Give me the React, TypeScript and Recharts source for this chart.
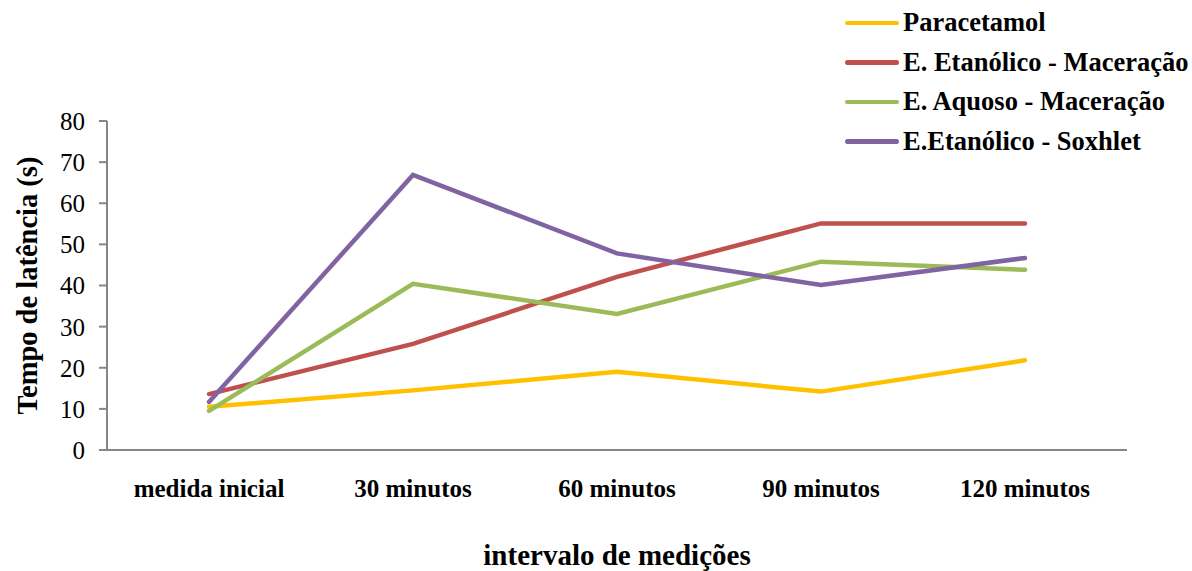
import { LineChart, Line, XAxis, YAxis } from 'recharts'

const categories = ['medida inicial', '30 minutos', '60 minutos', '90 minutos', '120 minutos']
const paracetamol = [10.5, 14.5, 19, 14.2, 21.8]
const etanolicoMaceracao = [13.6, 25.8, 42.1, 55.1, 55.1]
const aquosoMaceracao = [9.5, 40.4, 33.1, 45.8, 43.8]
const etanolicoSoxhlet = [11.7, 66.9, 47.8, 40.1, 46.7]
const yTicks = [0, 10, 20, 30, 40, 50, 60, 70, 80]

const series = [
  { key: 'p', name: 'Paracetamol', color: '#FFC000' },
  { key: 'em', name: 'E. Etanólico - Maceração', color: '#C0504D' },
  { key: 'am', name: 'E. Aquoso - Maceração', color: '#9BBB59' },
  { key: 'es', name: 'E.Etanólico - Soxhlet', color: '#8064A2' },
]

const data = categories.map((c, i) => ({
  cat: c,
  p: paracetamol[i],
  em: etanolicoMaceracao[i],
  am: aquosoMaceracao[i],
  es: etanolicoSoxhlet[i],
}))

const font = 'Liberation Serif, Times New Roman, DejaVu Serif, serif'

function LegendBox() {
  return (
    <div style={{ position: 'absolute', left: 845, top: 3, fontFamily: font, fontWeight: 'bold', fontSize: 26.5, color: '#000' }}>
      {series.map((s) => (
        <div key={s.key} style={{ display: 'flex', alignItems: 'center', height: 39.5, whiteSpace: 'nowrap' }}>
          <div style={{ width: 54, height: 4.5, background: s.color, borderRadius: 3, marginRight: 4 }} />
          <span>{s.name}</span>
        </div>
      ))}
    </div>
  )
}

export default function App() {
  return (
    <div style={{ position: 'absolute', left: 0, top: 0, width: 1192, height: 571, background: '#fff' }}>
      <LineChart width={1192} height={571} data={data} margin={{ top: 121, right: 65, bottom: 61, left: 47 }}>
        <XAxis
          dataKey="cat"
          scale="band"
          height={60}
          tickLine={false}
          axisLine={{ stroke: '#868686', strokeWidth: 2 }}
          tick={{ fill: '#000', fontSize: 25, fontWeight: 'bold', fontFamily: font }}
          tickMargin={23}
          interval={0}
          label={{
            value: 'intervalo de medições',
            position: 'bottom',
            offset: 34,
            style: { fill: '#000', fontSize: 29, fontWeight: 'bold', fontFamily: font },
          }}
        />
        <YAxis
          width={60}
          domain={[0, 80]}
          ticks={yTicks}
          interval={0}
          tickSize={8}
          tickMargin={14}
          axisLine={{ stroke: '#868686', strokeWidth: 2 }}
          tickLine={{ stroke: '#868686', strokeWidth: 2 }}
          tick={{ fill: '#000', fontSize: 25, fontFamily: font }}
          label={{
            value: 'Tempo de latência (s)',
            angle: -90,
            position: 'insideLeft',
            offset: -20,
            style: { textAnchor: 'middle', fill: '#000', fontSize: 28.5, fontWeight: 'bold', fontFamily: font },
          }}
        />
        {series.map((s) => (
          <Line
            key={s.key}
            dataKey={s.key}
            name={s.name}
            stroke={s.color}
            strokeWidth={4.5}
            strokeLinecap="round"
            dot={false}
            activeDot={false}
            type="linear"
            isAnimationActive={false}
          />
        ))}
      </LineChart>
      <LegendBox />
    </div>
  )
}
